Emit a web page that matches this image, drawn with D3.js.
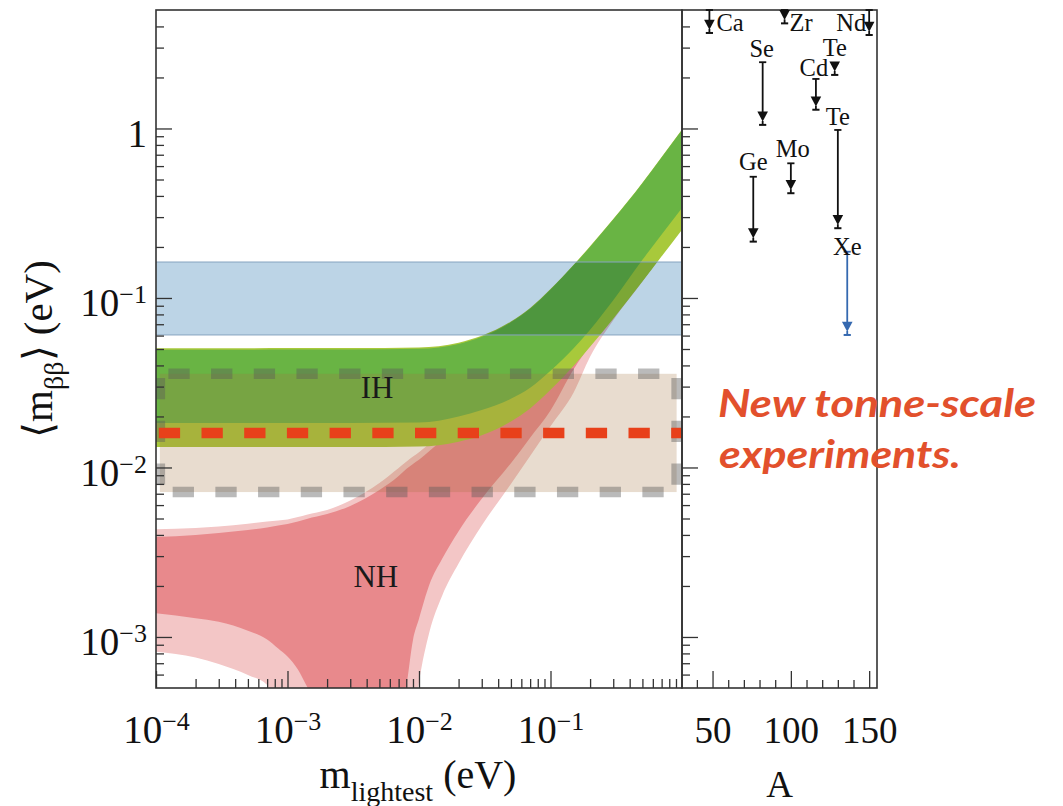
<!DOCTYPE html>
<html>
<head>
<meta charset="utf-8">
<script src="https://cdn.jsdelivr.net/npm/d3@7/dist/d3.min.js"></script>
<style>
html,body{margin:0;padding:0;background:#ffffff;}
svg{display:block;}
</style>
</head>
<body>
<svg id="chart" width="1063" height="806"></svg>
<script>
// ================= DATA =================
// Inverted hierarchy band (m_lightest in eV -> <m_bb> in eV)
const ihMass       = [1e-4,3e-4,1e-3,3e-3,0.01,0.02,0.03,0.05,0.07,0.1,0.15,0.2,0.3,0.5,0.7,1.0];
const ihLightUpper = [0.0505,0.0505,0.0506,0.0507,0.0511,0.0545,0.0598,0.0726,0.0872,0.1128,0.157,0.202,0.292,0.478,0.679,0.985];
const ihDarkUpper  = [0.0495,0.0495,0.0496,0.0497,0.0501,0.0535,0.0590,0.0718,0.0865,0.112,0.156,0.200,0.290,0.475,0.675,0.98];
const ihDarkLower  = [0.0183,0.0183,0.0183,0.0183,0.0184,0.0200,0.0218,0.0254,0.0295,0.0372,0.0505,0.0650,0.097,0.168,0.237,0.340];
const ihLightLower = [0.0132,0.0132,0.0132,0.0132,0.0133,0.0142,0.0155,0.0187,0.0223,0.0287,0.0398,0.0515,0.0755,0.125,0.176,0.253];

// Normal hierarchy band (values of 3e-4 lie below the visible axis range)
const nhMass       = [1e-4,2e-4,3e-4,5e-4,7e-4,8.5e-4,1e-3,1.2e-3,1.4e-3,2e-3,3e-3,5e-3,7e-3,8e-3,9e-3,0.01,0.012,0.015,0.02,0.03,0.05,0.07,0.1,0.15,0.2,0.3,0.5,0.7,1.0];
const nhLightUpper = [0.00432,0.0044,0.00449,0.00465,0.0048,0.00487,0.00493,0.0051,0.00527,0.00561,0.00639,0.0081,0.00993,0.0108,0.0116,0.0123,0.0138,0.016,0.0205,0.0295,0.048,0.067,0.097,0.145,0.19,0.28,0.46,0.65,0.93];
const nhDarkUpper  = [0.00389,0.0040,0.00411,0.00428,0.00442,0.00454,0.00464,0.0048,0.00497,0.00531,0.00593,0.00736,0.0089,0.0098,0.0105,0.0111,0.0125,0.0146,0.0185,0.027,0.045,0.064,0.094,0.142,0.187,0.276,0.455,0.645,0.92];
const nhDarkLower  = [0.00138,0.00129,0.00123,0.00109,0.000966,0.000855,0.000767,0.000643,0.000514,3e-4,3e-4,3e-4,3e-4,0.000507,0.00096,0.00128,0.00204,0.00289,0.00421,0.00654,0.0106,0.0150,0.0217,0.038,0.053,0.082,0.135,0.19,0.27];
const nhLightLower = [0.000819,0.000757,0.000693,0.000597,0.00052,3e-4,3e-4,3e-4,3e-4,3e-4,3e-4,3e-4,3e-4,3e-4,3e-4,0.00054,0.00107,0.00175,0.00271,0.00454,0.00799,0.0117,0.0175,0.0277,0.045,0.074,0.125,0.18,0.26];

// Horizontal bands / lines
const currentLimitBand   = [0.0605, 0.163];     // blue band
const tonneSensitivity   = [0.00716, 0.0357];   // tan box, <m_bb>
const tonneMassSpan      = [1.07e-4, 0.91];     // tan box, m_lightest
const tonneTarget        = [0.016];             // red dashed line

// Right panel: isotope limits
const isotopes     = ["Ca","Ge","Se","Zr","Mo","Cd","Te","Te","Xe","Nd"];
const massNumbers  = [48,76,82,96,100,116,128,130,136,150];
const limitTop     = [5,0.519,2.46,5,0.623,1.96,2.42,0.98,0.1875,5];
const limitBottom  = [3.66,0.215,1.05,4.17,0.415,1.29,2.07,0.258,0.0605,3.56];

// Region labels
const regionLabels = ["IH","NH"];
const regionLabelMass = [0.0048,0.0047];
const regionLabelValue = [0.0257,0.00198];

// Tick labels
const xTickValues = [1e-4,1e-3,1e-2,1e-1];
const xTickLabels = [["10","\u22124"],["10","\u22123"],["10","\u22122"],["10","\u22121"]];
const yTickValues = [1e-3,1e-2,1e-1,1];
const yTickLabels = [["10","\u22123"],["10","\u22122"],["10","\u22121"],["1",""]];
const aTickValues = [50,100,150];
const aMinorTicks = [40,60,70,80,90,110,120,130,140];

// ================= LAYOUT =================
const SERIF = '"Liberation Serif","Times New Roman",Times,serif';
const X0 = 156, X1 = 682, X2 = 877, Y0 = 10, Y1 = 688;
const svg = d3.select("#chart");
svg.append("rect").attr("width",1063).attr("height",806).attr("fill","#ffffff");

const x  = d3.scaleLog().domain([1e-4,1]).range([X0,X1]);
const y  = d3.scaleLog().domain([5e-4,5]).range([Y1,Y0]);
const xA = d3.scaleLinear().domain([30.5,155]).range([X1,X2]);

const defs = svg.append("defs");
defs.append("clipPath").attr("id","clipMain").append("rect")
  .attr("x",X0).attr("y",Y0).attr("width",X1-X0).attr("height",Y1-Y0);

const plot = svg.append("g").attr("clip-path","url(#clipMain)");
const zip = (ms,lo,hi) => ms.map((m,i)=>({m,lo:lo[i],hi:hi[i]}));
const area = d3.area().x(d=>x(d.m)).y0(d=>y(d.lo)).y1(d=>y(d.hi)).curve(d3.curveMonotoneX);

plot.append("path").attr("d",area(zip(nhMass,nhLightLower,nhLightUpper))).attr("fill","#f3c6c6");
plot.append("path").attr("d",area(zip(nhMass,nhDarkLower,nhDarkUpper))).attr("fill","#e8898c");
plot.append("path").attr("d",area(zip(ihMass,ihLightLower,ihLightUpper))).attr("fill","#a8c93b");
plot.append("path").attr("d",area(zip(ihMass,ihDarkLower,ihDarkUpper))).attr("fill","#69b444");

// blue band (current limits)
plot.append("rect")
  .attr("x",X0).attr("width",X1-X0)
  .attr("y",y(currentLimitBand[1])).attr("height",y(currentLimitBand[0])-y(currentLimitBand[1]))
  .attr("fill","#bcd4e6").style("mix-blend-mode","multiply");
plot.selectAll("line.cl").data(currentLimitBand).join("line").attr("class","cl")
  .attr("x1",X0).attr("x2",X1).attr("y1",d=>y(d)).attr("y2",d=>y(d))
  .attr("stroke","#86a4c0").attr("stroke-width",1);

// tan box (tonne-scale sensitivity)
const bx0 = x(tonneMassSpan[0]), bx1 = x(tonneMassSpan[1]);
const by0 = y(tonneSensitivity[1]), by1 = y(tonneSensitivity[0]);
plot.append("rect").attr("x",bx0).attr("y",by0).attr("width",bx1-bx0).attr("height",by1-by0)
  .attr("fill","rgba(163,115,63,0.25)");

const dashG = svg.append("g").attr("clip-path","url(#clipMain)");
function dashed(x1,y1,x2,y2,off,color){
  dashG.append("line").attr("x1",x1).attr("y1",y1).attr("x2",x2).attr("y2",y2)
    .attr("stroke",color).attr("stroke-width",10.5)
    .attr("stroke-dasharray","21.3,21.4").attr("stroke-dashoffset",off);
}
const gray = "rgba(90,90,90,0.42)";
dashed(bx0,by0,bx1,by0,34.2,gray);
dashed(bx0,by1,bx1,by1,29.9,gray);
dashed(bx0,by0,bx0,by1,38.5,gray);
dashed(bx1,by0,bx1,by1,38.5,gray);
tonneTarget.forEach(v=>dashed(X0,y(v),X1,y(v),39.9,"#e8401a"));

// region labels
svg.selectAll("text.region").data(regionLabels).join("text").attr("class","region")
  .attr("x",(d,i)=>x(regionLabelMass[i])).attr("y",(d,i)=>y(regionLabelValue[i]))
  .attr("text-anchor","middle").attr("font-family",SERIF).attr("font-size",31)
  .attr("fill","#1a1a1a").text(d=>d);

// ================= AXES =================
function minorTicks(lo,hi){
  const t=[];
  for(let e=-5;e<=1;e++) for(let k=2;k<=9;k++){
    const v=k*Math.pow(10,e);
    if(v>lo*1.0001 && v<hi*0.9999) t.push(v);
  }
  return t;
}
const yMinor = minorTicks(5e-4,5);
const xMinor = minorTicks(1e-4,1);
const axisColor = "#333";
function clean(g){ g.select(".domain").remove(); g.attr("color",axisColor); g.selectAll(".tick line").attr("stroke-width",1.3); }

// main left axis
svg.append("g").attr("transform",`translate(${X0},0)`)
  .call(d3.axisLeft(y).tickValues(yMinor).tickSize(-8).tickFormat(()=>"")).call(clean);
const gYmaj = svg.append("g").attr("transform",`translate(${X0},0)`)
  .call(d3.axisLeft(y).tickValues(yTickValues).tickSize(-16).tickPadding(9).tickFormat(()=>"")).call(clean);
gYmaj.selectAll(".tick text").each(function(d,i){
  const t=d3.select(this).attr("dy","0.45em").attr("font-size",39).attr("font-family",SERIF).attr("fill","#111");
  t.append("tspan").text(yTickLabels[i][0]);
  if(yTickLabels[i][1]) t.append("tspan").attr("font-size",26).attr("dy",-13).text(yTickLabels[i][1]);
});

// main bottom axis
svg.append("g").attr("transform",`translate(0,${Y1})`)
  .call(d3.axisBottom(x).tickValues(xMinor).tickSize(-9).tickFormat(()=>"")).call(clean);
const gXmaj = svg.append("g").attr("transform",`translate(0,${Y1})`)
  .call(d3.axisBottom(x).tickValues(xTickValues).tickSize(-17).tickFormat(()=>"")).call(clean);
gXmaj.selectAll(".tick text").each(function(d,i){
  const t=d3.select(this).attr("y",55).attr("dy",0).attr("font-size",39).attr("font-family",SERIF).attr("fill","#111");
  t.append("tspan").text(xTickLabels[i][0]);
  t.append("tspan").attr("font-size",26).attr("dy",-13).text(xTickLabels[i][1]);
});

// right panel left ticks
svg.append("g").attr("transform",`translate(${X1},0)`)
  .call(d3.axisRight(y).tickValues(yMinor).tickSize(8).tickFormat(()=>"")).call(clean);
svg.append("g").attr("transform",`translate(${X1},0)`)
  .call(d3.axisRight(y).tickValues(yTickValues).tickSize(16).tickFormat(()=>"")).call(clean);

// right panel bottom axis
svg.append("g").attr("transform",`translate(0,${Y1})`)
  .call(d3.axisBottom(xA).tickValues(aMinorTicks).tickSize(-8).tickFormat(()=>"")).call(clean);
const gAmaj = svg.append("g").attr("transform",`translate(0,${Y1})`)
  .call(d3.axisBottom(xA).tickValues(aTickValues).tickSize(-17).tickFormat(d=>d)).call(clean);
gAmaj.selectAll(".tick text").attr("y",55).attr("dy",0).attr("font-size",37).attr("font-family",SERIF).attr("fill","#111");

// frames
svg.append("rect").attr("x",X0).attr("y",Y0).attr("width",X1-X0).attr("height",Y1-Y0)
  .attr("fill","none").attr("stroke","#333").attr("stroke-width",1.6);
svg.append("rect").attr("x",X1).attr("y",Y0).attr("width",X2-X1).attr("height",Y1-Y0)
  .attr("fill","none").attr("stroke","#333").attr("stroke-width",1.6);

// ================= RIGHT PANEL ARROWS =================
const labelLayout = [
  {a:"start", dx:7,  dy:21},   // Ca
  {a:"middle",dx:0,  dy:-6.7}, // Ge
  {a:"middle",dx:-1, dy:-5.6}, // Se
  {a:"start", dx:5,  dy:21},   // Zr
  {a:"middle",dx:2,  dy:-6.6}, // Mo
  {a:"middle",dx:-2, dy:-3},   // Cd
  {a:"middle",dx:0,  dy:-7},   // Te (128)
  {a:"middle",dx:0,  dy:-5},   // Te (130)
  {a:"middle",dx:0,  dy:3},    // Xe
  {a:"end",   dx:-3, dy:21}    // Nd
];
const arrowData = isotopes.map((n,i)=>({n,A:massNumbers[i],top:limitTop[i],bot:limitBottom[i],lay:labelLayout[i]}));
const arrG = svg.append("g");
arrowData.forEach(d=>{
  const ax = xA(d.A), yt = y(d.top), yb = y(d.bot);
  const col = d.n==="Xe" && d.A===136 ? "#3569b0" : "#111";
  const g = arrG.append("g");
  g.append("line").attr("x1",ax).attr("x2",ax).attr("y1",yt).attr("y2",yb-8).attr("stroke",col).attr("stroke-width",1.8);
  g.append("line").attr("x1",ax-3.6).attr("x2",ax+3.6).attr("y1",yt).attr("y2",yt).attr("stroke",col).attr("stroke-width",1.8);
  g.append("path").attr("d",`M${ax-5.3},${yb-13.3}L${ax+5.3},${yb-13.3}L${ax},${yb-3.3}Z`).attr("fill",col);
  g.append("line").attr("x1",ax).attr("x2",ax).attr("y1",yb-4).attr("y2",yb).attr("stroke",col).attr("stroke-width",1.8);
  g.append("line").attr("x1",ax-3.6).attr("x2",ax+3.6).attr("y1",yb).attr("y2",yb).attr("stroke",col).attr("stroke-width",2);
  svg.append("text").attr("x",ax+d.lay.dx).attr("y",yt+d.lay.dy).attr("text-anchor",d.lay.a)
    .attr("font-family",SERIF).attr("font-size",24.5).attr("fill","#111").text(d.n);
});

// ================= TITLES =================
const xt = svg.append("text").attr("x",(X0+X1)/2-1).attr("y",787.7).attr("text-anchor","middle")
  .attr("font-family",SERIF).attr("font-size",40).attr("fill","#111");
xt.append("tspan").text("m");
xt.append("tspan").attr("font-size",28).attr("dy",13).text("lightest");
xt.append("tspan").attr("dy",-13).text(" (eV)");

const ytl = svg.append("text").attr("transform",`translate(52,${(Y0+Y1)/2}) rotate(-90)`).attr("text-anchor","middle")
  .attr("font-family",SERIF).attr("font-size",41).attr("fill","#111");
ytl.append("tspan").text("\u27E8m");
ytl.append("tspan").attr("font-size",28).attr("dy",11).text("\u03B2\u03B2");
ytl.append("tspan").attr("dy",-11).text("\u27E9 (eV)");

svg.append("text").attr("x",(X1+X2)/2).attr("y",796.7).attr("text-anchor","middle")
  .attr("font-family",SERIF).attr("font-size",37).attr("fill","#111").text("A");

// ================= ANNOTATION =================
const ann = svg.append("g").attr("font-family","Lato,'Open Sans',sans-serif").attr("font-weight",700)
  .attr("font-style","italic").attr("font-size",39).attr("fill","#e2502c");
ann.append("text").attr("x",718).attr("y",416.7).attr("textLength",318).attr("lengthAdjust","spacingAndGlyphs").text("New tonne-scale");
ann.append("text").attr("x",719).attr("y",468.3).attr("textLength",242).attr("lengthAdjust","spacingAndGlyphs").text("experiments.");
</script>
</body>
</html>
